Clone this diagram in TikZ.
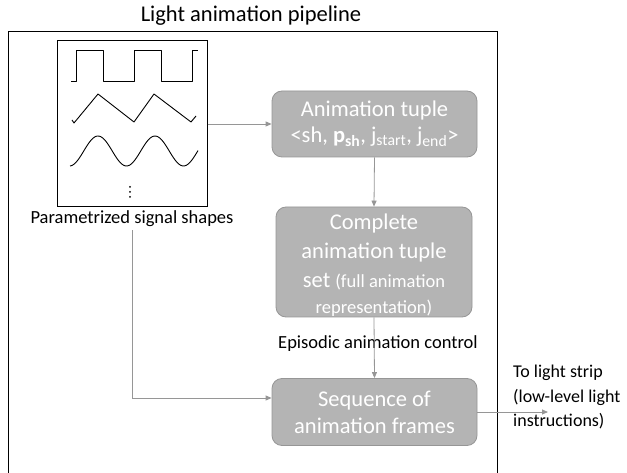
\documentclass[tikz,border=0pt]{standalone}
\usepackage{fontspec}
\setmainfont{Carlito}
\usetikzlibrary{arrows.meta,calc}
\definecolor{boxfill}{RGB}{180,180,180}
\definecolor{boxline}{RGB}{150,150,150}
\definecolor{wire}{RGB}{150,150,150}
\begin{document}
\begin{tikzpicture}[x=1pt,y=-1pt,
  stage/.style={draw=boxline, fill=boxfill, rounded corners=10pt, text=white,
    align=center, inner sep=0pt, line width=0.8pt,
    font=\fontsize{22.5}{27}\selectfont},
  stagetext/.style={text=white, align=center, inner sep=0pt},
  wirearrow/.style={draw=wire, line width=0.8pt,
    -{Triangle[length=6pt,width=5pt]}},
  label/.style={font=\fontsize{18.5}{24}\selectfont, inner sep=0pt},
  wave/.style={line width=0.9pt, line join=round}]
\useasboundingbox (0,0) rectangle (627,473);

% outer frame, open at the bottom edge
\draw[line width=1pt] (8,480) -- (8,32) -- (497,32) -- (497,480);
\node[font=\fontsize{22.5}{27}\selectfont, inner sep=0pt] (title) at (251,16) {Light animation pipeline};

% signal shape catalogue
\node[draw, line width=1pt, minimum width=150pt, minimum height=166pt, inner sep=0pt] (sig) at (132,124) {};
\draw[wave] (71,81) -- (76,81) -- (76,50) -- (103,50) -- (103,81) -- (134,81) -- (134,50)
  -- (161,50) -- (161,81) -- (192,81) -- (192,50) -- (198,50);
\draw[wave] (72,120) -- (74,123) -- (98,94) -- (134,122) -- (154,94) -- (191,122) -- (196,116);
\draw[wave] plot[domain=70:198, samples=80, smooth] (\x, {151 - 15*cos(6.3158*(\x-98))});
\foreach \yy in {187,192,197} \fill (130,\yy) circle (1pt);
\node[label] (siglbl) at (132,219) {Parametrized signal shapes};

% processing stages
\node[stage, minimum width=205pt, minimum height=66pt] (tuple) at (374.5,124)
  {Animation tuple\\[-1pt]<sh, \textbf{p\textsubscript{sh}}, j\textsubscript{start}, j\textsubscript{end}>};
\node[stage, minimum width=196pt, minimum height=110pt] (set) at (374,262) {};
\node[stagetext, font=\fontsize{22.5}{29}\selectfont] (settext) at (374,265.5)
  {Complete\\animation tuple\\set {\fontsize{18.5}{22}\selectfont (full animation}\\[-3pt]{\fontsize{18.5}{22}\selectfont representation)}};
\node[stage, minimum width=205pt, minimum height=67pt] (frames) at (374.5,412)
  {Sequence of\\animation frames};

\node[label] (ctrl) at (378,344) {Episodic animation control};
\node[label, anchor=north west, align=left, font=\fontsize{18}{24.5}\selectfont] (out) at (513,365)
  {To light strip\\(low-level light\\instructions)};
\coordinate (strip) at (548,412);

% connectors
\draw[wirearrow] (sig.east) -- (tuple.west);
\draw[wirearrow] (tuple.south) -- (set.north);
\draw[wirearrow] (set.south) -- (frames.north);
\draw[wirearrow] ([yshift=-3pt]siglbl.south) |- ([yshift=14pt]frames.west);
\draw[wirearrow] (frames.east) -- (strip);
\end{tikzpicture}
\end{document}
